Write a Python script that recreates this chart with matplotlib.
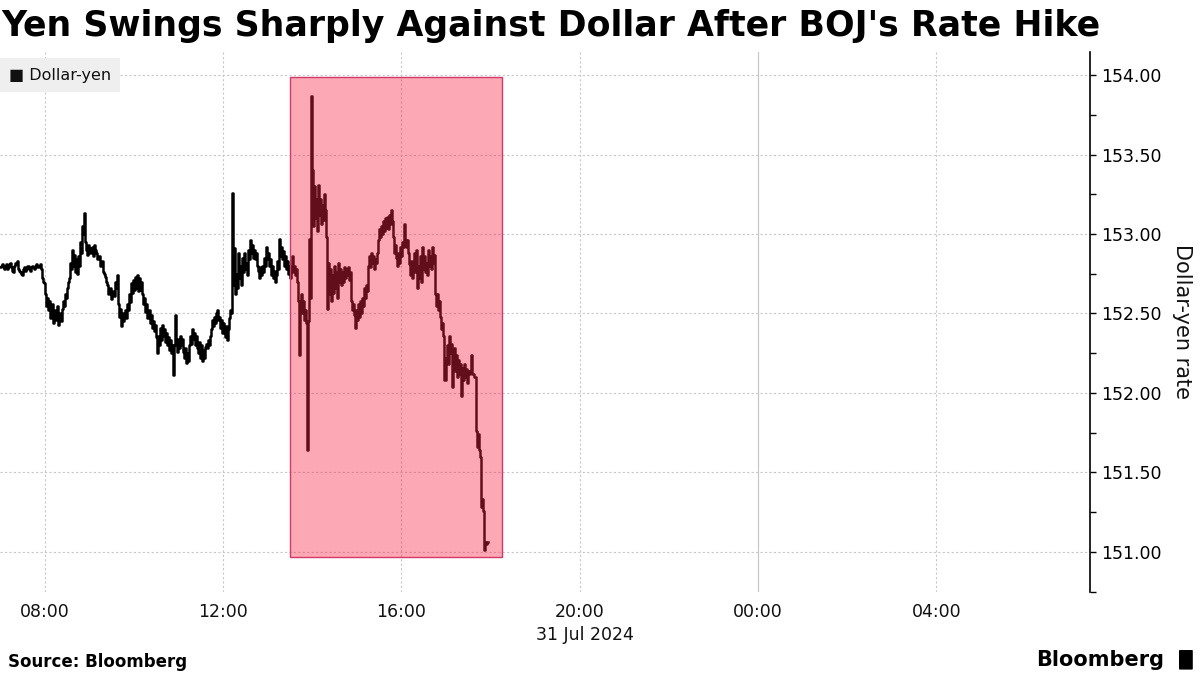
import numpy as np
import pandas as pd
import matplotlib
matplotlib.use("Agg")
import matplotlib.pyplot as plt
import matplotlib.dates as mdates
from matplotlib.patches import Rectangle, FancyBboxPatch

# Dollar-yen, 31 Jul 2024 (one reading per ~81 s)
rate_0700 = [
    152.79, 152.80, 152.81, 152.79, 152.78, 152.80, 152.81, 152.78, 152.79, 152.81,
    152.82, 152.79, 152.77, 152.76, 152.80, 152.82, 152.81, 152.83, 152.78, 152.77,
    152.76, 152.75, 152.74, 152.78, 152.79, 152.77, 152.78, 152.80, 152.80, 152.78,
    152.77, 152.79, 152.80, 152.79, 152.78, 152.80, 152.81, 152.79, 152.79, 152.80,
    152.81, 152.78, 152.72, 152.70, 152.69, 152.62, 152.55, 152.60, 152.52, 152.58,
    152.47, 152.50, 152.56, 152.44, 152.48, 152.52, 152.46, 152.55, 152.43, 152.47,
    152.50, 152.45, 152.53, 152.58, 152.55, 152.62, 152.60, 152.66, 152.70, 152.72,
]
rate_0830 = [
    152.82, 152.78, 152.90, 152.80, 152.87, 152.76, 152.84, 152.75, 152.86, 152.80,
    152.95, 152.88, 153.05, 153.00, 153.13, 152.95, 152.90, 152.87, 152.93, 152.90,
    152.88, 152.91, 152.92, 152.86, 152.93, 152.90, 152.88, 152.84, 152.85, 152.86,
    152.80, 152.82, 152.83, 152.76, 152.75, 152.73, 152.70, 152.68, 152.62, 152.64,
    152.66, 152.59, 152.62, 152.64, 152.61, 152.70, 152.66, 152.74, 152.56, 152.48,
    152.53, 152.42, 152.50, 152.45, 152.49, 152.52, 152.47, 152.56, 152.52, 152.62,
    152.57, 152.69, 152.63, 152.71, 152.65, 152.73, 152.66, 152.74, 152.64, 152.72,
    152.65, 152.70, 152.62, 152.56, 152.60, 152.51, 152.56, 152.47, 152.52, 152.44,
]
rate_1020 = [
    152.49, 152.41, 152.45, 152.39, 152.43, 152.35, 152.25, 152.36, 152.30, 152.41,
    152.33, 152.43, 152.36, 152.40, 152.32, 152.38, 152.30, 152.35, 152.27, 152.33,
    152.25, 152.30, 152.11, 152.30, 152.49, 152.33, 152.26, 152.34, 152.28, 152.36,
    152.30, 152.34, 152.26, 152.22, 152.28, 152.19, 152.25, 152.20, 152.30, 152.36,
    152.31, 152.40, 152.34, 152.38, 152.30, 152.36, 152.28, 152.25, 152.32, 152.22,
    152.30, 152.20, 152.27, 152.22, 152.29, 152.31, 152.28, 152.33, 152.30, 152.36,
    152.40, 152.46, 152.42, 152.48, 152.44, 152.50, 152.52, 152.46, 152.48, 152.41,
    152.46, 152.38, 152.44, 152.40, 152.35, 152.42, 152.33, 152.40, 152.47, 152.52,
    152.50,
]
rate_1210 = [
    153.26, 152.68, 152.91, 152.62, 152.75, 152.66, 152.88, 152.72, 152.80, 152.68,
    152.85, 152.76, 152.88, 152.78, 152.82, 152.74, 152.90, 152.84, 152.96, 152.88,
    152.93, 152.85, 152.90, 152.84, 152.88, 152.80, 152.77, 152.72, 152.79, 152.74,
    152.80, 152.76, 152.85, 152.80, 152.92, 152.84, 152.88, 152.80, 152.84, 152.74,
    152.80, 152.72, 152.77, 152.70, 152.74, 152.83, 152.78, 152.97, 152.86, 152.92,
    152.84, 152.89, 152.80, 152.86, 152.78, 152.83, 152.75, 152.80, 152.72, 152.80,
    152.86, 152.76, 152.80, 152.74, 152.78, 152.70,
]
rate_1340 = [
    152.58, 152.24, 152.55, 152.62, 152.50, 152.58, 152.46, 152.52, 152.44, 151.64,
    152.45, 152.97, 152.60, 153.87, 153.40, 153.05, 153.30, 153.10, 153.22, 153.02,
    153.31, 153.12, 153.22, 153.06, 153.18, 153.09, 153.25, 153.15, 152.98, 152.53,
    152.82, 152.62, 152.78, 152.58, 152.74, 152.63, 152.80, 152.66, 152.76, 152.60,
    152.82, 152.70, 152.78, 152.68, 152.76, 152.70, 152.79, 152.72, 152.78, 152.74,
    152.79, 152.71, 152.76, 152.58, 152.52, 152.56, 152.49, 152.41, 152.52, 152.46,
    152.56, 152.48, 152.58, 152.50, 152.60, 152.55, 152.66, 152.60, 152.68, 152.64,
    152.80, 152.86, 152.79, 152.88, 152.82, 152.86, 152.78, 152.84, 152.82, 152.88,
    152.96, 153.03, 152.98, 153.05, 153.00, 153.08, 153.02, 153.10, 153.04, 153.11,
    153.03, 153.12, 153.06, 153.15, 153.08, 152.98, 152.88, 152.93, 152.85, 152.80,
    152.88, 152.82, 152.92, 152.86,
]
rate_1600 = [
    152.95, 152.92, 153.06, 152.96, 152.92, 152.96, 152.88, 152.81, 152.74, 152.83,
    152.72, 152.80, 152.88, 152.76, 152.90, 152.66, 152.80, 152.72, 152.86, 152.70,
    152.92, 152.78, 152.86, 152.76, 152.82, 152.74, 152.90, 152.80, 152.86, 152.78,
    152.92, 152.82, 152.87, 152.62, 152.55, 152.62, 152.52, 152.58, 152.48, 152.40,
    152.44, 152.36, 152.08, 152.22, 152.30, 152.18, 152.36, 152.25, 152.31, 152.04,
    152.20, 152.28, 152.14, 152.24, 152.10, 152.21, 152.12, 152.18, 151.98, 152.16,
    152.08, 152.18, 152.10, 152.15, 152.06, 152.14, 152.12, 152.14, 152.24, 152.12,
    152.12, 152.10, 152.10, 151.76, 151.66, 151.74, 151.64, 151.60, 151.28, 151.33,
    151.26, 151.01, 151.06, 151.05, 151.06, 151.06,
]

rate = rate_0700 + rate_0830 + rate_1020 + rate_1210 + rate_1340 + rate_1600
times = pd.date_range("2024-07-31 07:00", periods=len(rate), freq="81s")

# highlighted window after the BOJ decision
box_start = pd.Timestamp("2024-07-31 13:30")
box_end = pd.Timestamp("2024-07-31 18:16")
box_low, box_high = 150.97, 153.99

x_start = pd.Timestamp("2024-07-31 07:00")
x_end = pd.Timestamp("2024-08-01 07:26")
y_ticks = [151.0, 151.5, 152.0, 152.5, 153.0, 153.5, 154.0]

fig = plt.figure(figsize=(12, 6.75), dpi=100)
ax = fig.add_axes([0.0, 0.123, 0.908, 0.8])

ax.plot(times, rate, color="black", lw=1.8, drawstyle="steps-post", zorder=3)

x0 = mdates.date2num(box_start)
x1 = mdates.date2num(box_end)
ax.add_patch(Rectangle((x0, box_low), x1 - x0, box_high - box_low,
                       facecolor="#fa2846", alpha=0.4, edgecolor="none", zorder=4))
ax.add_patch(Rectangle((x0, box_low), x1 - x0, box_high - box_low,
                       facecolor="none", edgecolor="#d2386a", lw=1.0, zorder=5))

ax.set_xlim(x_start, x_end)
ax.set_ylim(150.748, 154.145)

ax.xaxis.set_major_locator(mdates.HourLocator(byhour=[0, 4, 8, 12, 16, 20]))
ax.xaxis.set_major_formatter(mdates.DateFormatter("%H:%M"))
ax.tick_params(axis="x", length=0, labelsize=12.5, pad=8, colors="#111111")

ax.yaxis.tick_right()
ax.yaxis.set_label_position("right")
ax.set_yticks(y_ticks)
ax.set_yticklabels([f"{v:.2f}" for v in y_ticks])
ax.set_yticks(np.arange(150.75, 154.2, 0.25), minor=True)
ax.tick_params(axis="y", which="major", length=4, width=1, labelsize=12.5, pad=4)
ax.tick_params(axis="y", which="minor", length=4, width=1)
ax.set_ylabel("Dollar-yen rate", rotation=270, fontsize=15, labelpad=22, color="#111111")

for side in ["left", "top", "bottom"]:
    ax.spines[side].set_visible(False)
ax.spines["right"].set_linewidth(1.2)

ax.grid(axis="y", which="major", color="#c8c8c8", lw=0.8, linestyle=(0, (2, 2)))
for t in ax.get_xticks():
    if mdates.num2date(t).hour == 0:
        ax.axvline(t, color="#c8c8c8", lw=0.9, zorder=1)
    else:
        ax.axvline(t, color="#c8c8c8", lw=0.8, linestyle=(0, (2, 2)), zorder=1)

# legend chip
ax.text(0.008, 0.957, "\u25A0 Dollar-yen", transform=ax.transAxes, fontsize=11.5,
        va="center", ha="left", color="#111111",
        bbox=dict(boxstyle="square,pad=0.6", facecolor="#efefef", edgecolor="none"),
        zorder=6)

fig.text(0.4875, 0.06, "31 Jul 2024", ha="center", va="center", fontsize=12.5, color="#111111")

fig.text(0.001, 0.962, "Yen Swings Sharply Against Dollar After BOJ's Rate Hike",
         fontsize=25, weight="bold", ha="left", va="center")
fig.text(0.007, 0.019, "Source: Bloomberg", fontsize=12, weight="bold",
         ha="left", va="center")
fig.text(0.9705, 0.022, "Bloomberg", fontsize=15, weight="bold", ha="right", va="center")
fig.patches.append(FancyBboxPatch((0.9835, 0.009), 0.0095, 0.027,
                                  boxstyle="round,pad=0.001", transform=fig.transFigure,
                                  facecolor="black", edgecolor="none"))

fig.savefig("out.png", dpi=100)
